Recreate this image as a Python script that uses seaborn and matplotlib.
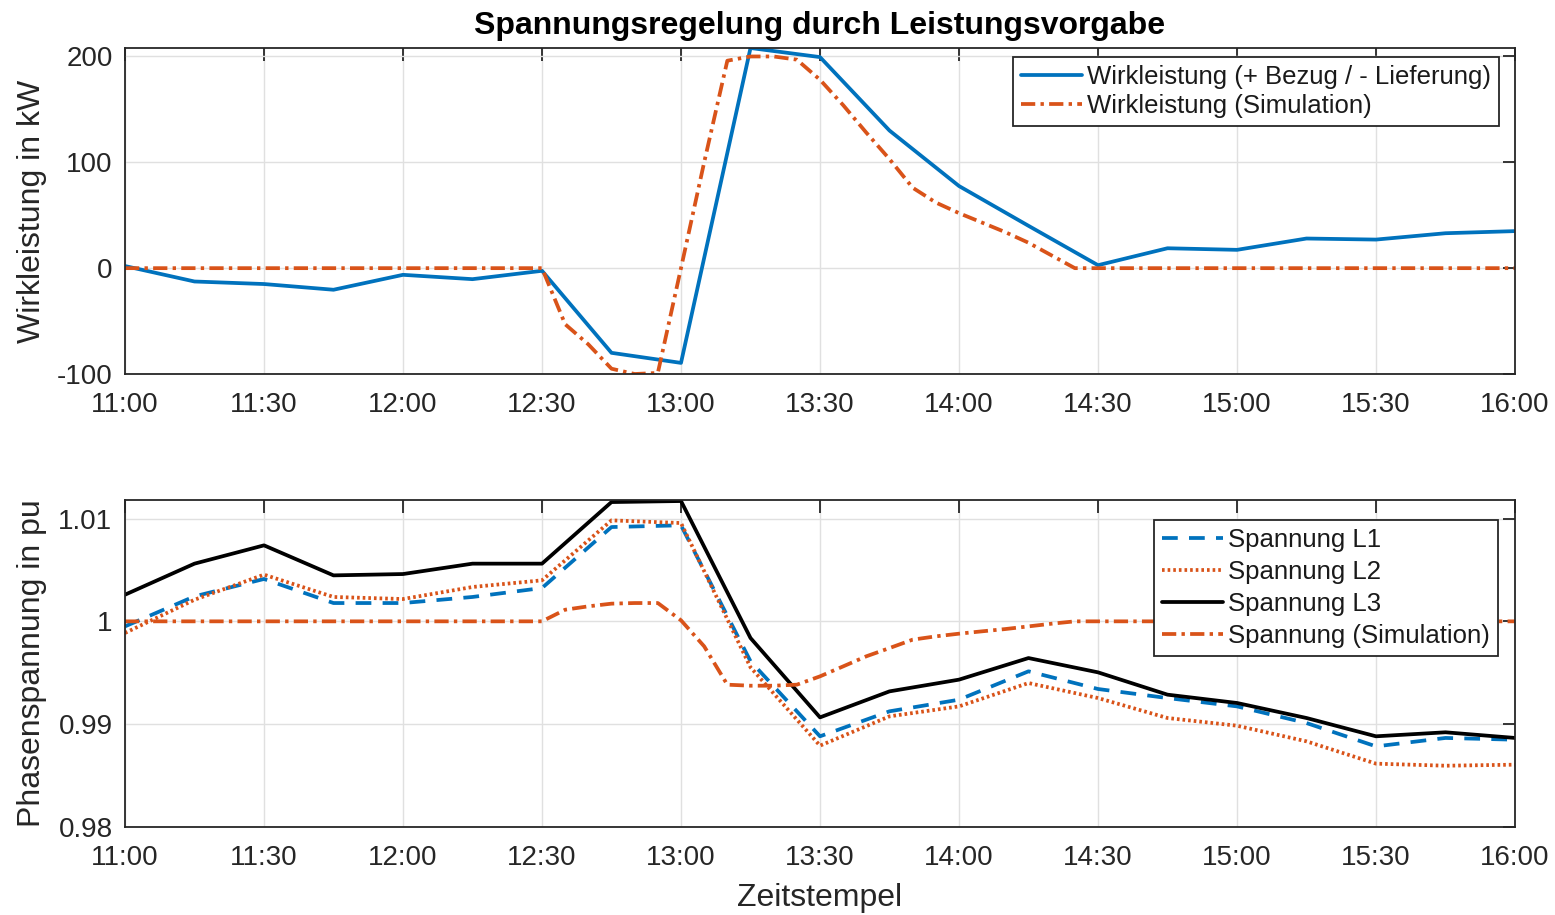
import pandas as pd
import matplotlib
matplotlib.use("Agg")
import matplotlib.pyplot as plt
import matplotlib.dates as mdates
from matplotlib.ticker import FuncFormatter, FixedLocator
import seaborn as sns

# =========================
# DATA
# =========================
TIMES = ["11:00", "11:15", "11:30", "11:45", "12:00", "12:15", "12:30", "12:45",
         "13:00", "13:15", "13:30", "13:45", "14:00", "14:15", "14:30", "14:45",
         "15:00", "15:15", "15:30", "15:45", "16:00"]

P_MEAS = [2, -12.6, -15, -20.4, -6.3, -10.4, -2.5, -80, -89.5, 208, 199.4, 130,
          77.6, 40, 2.8, 18.8, 17.3, 28, 27, 33, 35]

SIM_TIMES = ["11:00", "12:30", "12:35", "12:40", "12:45", "12:50", "12:55", "13:00",
             "13:05", "13:10", "13:15", "13:20", "13:25", "13:30", "13:35", "13:40",
             "13:45", "13:50", "13:55", "14:00", "14:05", "14:10", "14:15", "14:20",
             "14:25", "16:00"]

P_SIM = [0, 0, -53, -72, -95, -100, -99, 0, 100, 196, 200, 200, 197, 178, 154, 128,
         103, 76, 62, 52, 43, 34, 24, 12, 0, 0]

U_L1 = [0.99951, 1.00243, 1.00412, 1.00178, 1.00178, 1.00237, 1.00324, 1.00917,
        1.00934, 0.99612, 0.98882, 0.99125, 0.99238, 0.99514, 0.99342, 0.99254,
        0.99173, 0.99011, 0.98784, 0.98866, 0.98849]
U_L2 = [0.99887, 1.0021, 1.00454, 1.00237, 1.00217, 1.00334, 1.00399, 1.00982,
        1.00956, 0.99553, 0.98791, 0.99076, 0.99173, 0.994, 0.99254, 0.9906,
        0.98985, 0.98833, 0.98616, 0.98596, 0.98606]
U_L3 = [1.00259, 1.00561, 1.00739, 1.00447, 1.0046, 1.00561, 1.00561, 1.0116,
        1.0117, 0.99838, 0.99066, 0.99319, 0.99433, 0.99643, 0.99504, 0.99287,
        0.99206, 0.9906, 0.98882, 0.98921, 0.98866]

U_SIM = [1.0, 1.0, 1.00113, 1.00146, 1.00172, 1.00178, 1.00178, 1.0001, 0.99757,
         0.99384, 0.99374, 0.99374, 0.99384, 0.99465, 0.99562, 0.9966, 0.9974,
         0.99822, 0.99854, 0.9988, 0.99903, 0.99925, 0.99951, 0.99977, 1.0, 1.0]

X_TICKS = ["11:00", "11:30", "12:00", "12:30", "13:00", "13:30", "14:00",
           "14:30", "15:00", "15:30", "16:00"]

# =========================
# STYLE
# =========================
sns.set_theme(style="white")
plt.rcParams["font.family"] = ["Liberation Sans", "DejaVu Sans"]
plt.rcParams["axes.unicode_minus"] = False

BLUE = "#0072BD"
ORANGE = "#D95319"
DARK = "#262626"
FS = 20
FS_LAB = 23
FS_LEG = 18.5
LW = 2.7

DASHDOT = (0, (3.8, 1.4, 0.9, 1.4))
DASHED = (0, (4.2, 3.0))
DOTTED = (0, (0.7, 0.8))


def to_dt(labels):
    return pd.to_datetime(["2020-01-01 " + t for t in labels])


t = to_dt(TIMES)
t_sim = to_dt(SIM_TIMES)

fig = plt.figure(figsize=(15.55, 9.15), dpi=100)
ax1 = fig.add_axes([125 / 1555, 1 - 374 / 915, 1390 / 1555, 326 / 915])
ax2 = fig.add_axes([125 / 1555, 1 - 827 / 915, 1390 / 1555, 327 / 915])


def style_axes(ax):
    ax.set_xlim(t[0], t[-1])
    ax.xaxis.set_major_locator(FixedLocator(mdates.date2num(to_dt(X_TICKS))))
    ax.xaxis.set_major_formatter(mdates.DateFormatter("%H:%M"))
    ax.grid(True, color="#e0e0e0", linewidth=1.0)
    ax.tick_params(direction="in", length=9, width=1.3, top=True, right=True,
                   labelsize=FS, colors=DARK)
    ax.tick_params(axis="x", pad=13)
    ax.tick_params(axis="y", pad=9)
    for s in ax.spines.values():
        s.set_color(DARK)
        s.set_linewidth(1.3)
    ax.set_xlabel("")
    ax.set_ylabel("")


def style_legend(leg):
    leg.get_frame().set_linewidth(1.3)
    for txt in leg.get_texts():
        txt.set_color("#1a1a1a")


# =========================
# TOP: Wirkleistung
# =========================
sns.lineplot(x=t, y=P_MEAS, ax=ax1, color=BLUE, linewidth=LW,
             label="Wirkleistung (+ Bezug / - Lieferung)")
sns.lineplot(x=t_sim, y=P_SIM, ax=ax1, color=ORANGE, linewidth=LW,
             linestyle=DASHDOT, label="Wirkleistung (Simulation)")
style_axes(ax1)
ax1.set_ylim(-100, 208)
ax1.set_yticks([-100, 0, 100, 200])
ax1.set_ylabel("Wirkleistung in kW", fontsize=FS_LAB, color=DARK)
ax1.yaxis.set_label_coords(-0.056, 0.5)
ax1.set_title("Spannungsregelung durch Leistungsvorgabe", fontsize=23,
              fontweight="bold", color="black", pad=10)
leg1 = ax1.legend(loc="upper right", bbox_to_anchor=(0.9885, 0.9724),
                  borderaxespad=0, fontsize=FS_LEG, frameon=True, fancybox=False,
                  edgecolor=DARK, framealpha=1, handlelength=2.4,
                  handletextpad=0.2, borderpad=0.3, labelspacing=0.22)
style_legend(leg1)

# =========================
# BOTTOM: Phasenspannung
# =========================
sns.lineplot(x=t, y=U_L1, ax=ax2, color=BLUE, linewidth=LW, linestyle=DASHED,
             label="Spannung L1")
sns.lineplot(x=t, y=U_L2, ax=ax2, color=ORANGE, linewidth=LW, linestyle=DOTTED,
             label="Spannung L2")
sns.lineplot(x=t, y=U_L3, ax=ax2, color="black", linewidth=LW,
             label="Spannung L3")
sns.lineplot(x=t_sim, y=U_SIM, ax=ax2, color=ORANGE, linewidth=LW,
             linestyle=DASHDOT, label="Spannung (Simulation)")
style_axes(ax2)
ax2.set_ylim(0.98, 1.0118)
ax2.set_yticks([0.98, 0.99, 1.0, 1.01])
ax2.yaxis.set_major_formatter(FuncFormatter(lambda v, p: "%g" % round(v, 4)))
ax2.set_ylabel("Phasenspannung in pu", fontsize=FS_LAB, color=DARK)
ax2.yaxis.set_label_coords(-0.056, 0.5)
ax2.set_xlabel("Zeitstempel", fontsize=FS_LAB, color=DARK)
ax2.xaxis.set_label_coords(0.5, -0.172)
leg2 = ax2.legend(loc="upper right", bbox_to_anchor=(0.9878, 0.9388),
                  borderaxespad=0, fontsize=FS_LEG, frameon=True, fancybox=False,
                  edgecolor=DARK, framealpha=1, handlelength=2.4,
                  handletextpad=0.2, borderpad=0.3, labelspacing=0.32)
style_legend(leg2)

fig.savefig("out.png", dpi=100)
